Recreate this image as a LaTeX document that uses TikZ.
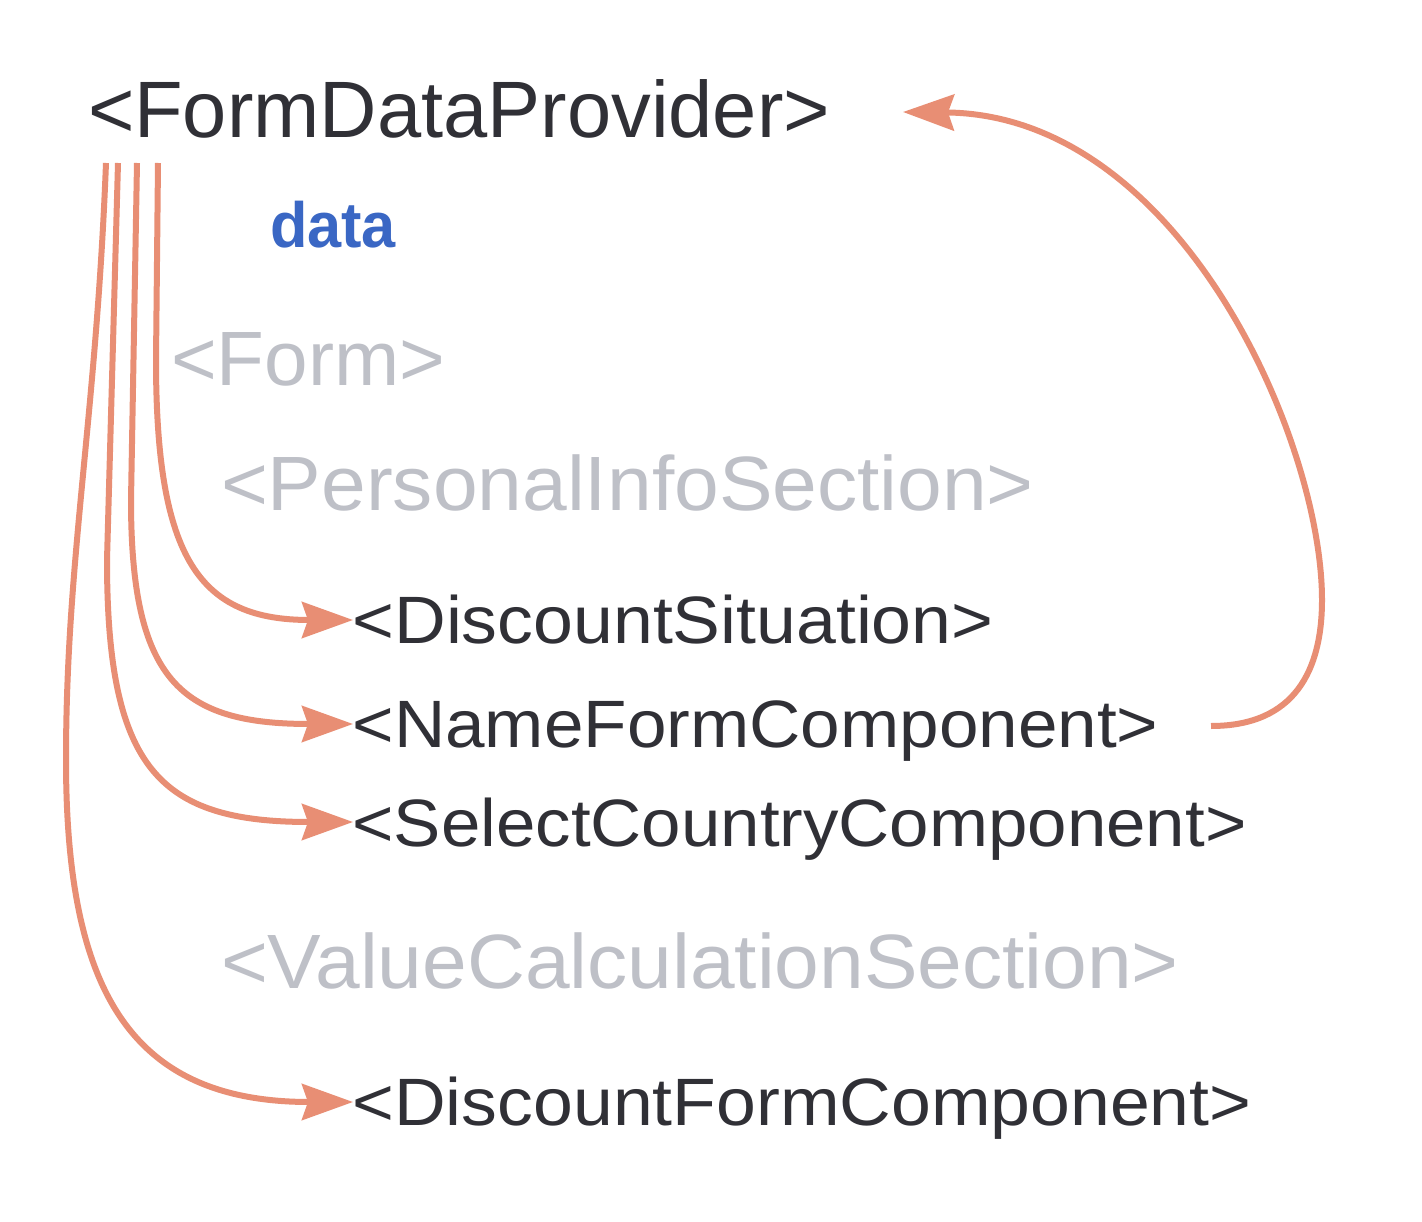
\documentclass[tikz,border=0pt]{standalone}
\usepackage{fontspec}
\setmainfont{Liberation Sans}
\usepackage{graphicx}
\usetikzlibrary{arrows.meta,calc}
\definecolor{ink}{HTML}{303036}
\definecolor{muted}{HTML}{BEC0C7}
\definecolor{link}{HTML}{3A67C4}
\definecolor{flow}{HTML}{E88E74}
\newcommand\fitw[2]{\setbox0=\hbox{#2}\pgfmathsetmacro\fitratio{#1/\the\wd0}\scalebox{\fitratio}[1]{\copy0}}
\begin{document}
\begin{tikzpicture}[x=1pt,y=-1pt,
  lbl/.style={anchor=base west, inner sep=0pt, outer sep=0pt},
  tag/.style={lbl, text=ink},
  ghost/.style={lbl, text=muted},
  prop/.style={lbl, text=link},
  flowline/.style={draw=flow, line width=6pt, -{Stealth[length=51pt,width=36pt,inset=6pt]}}]
\fill[white] (0,0) rectangle (1422,1222);
\useasboundingbox (0,0) rectangle (1422,1222);

\node[tag] (fdp) at (88,138) {\fitw{742}{\fontsize{80}{80}\selectfont <FormDataProvider>}};
\node[prop] (data) at (270,248) {\fitw{126}{\fontsize{64}{64}\selectfont\bfseries data}};
\node[ghost] (form) at (171,386) {\fitw{274}{\fontsize{77}{77}\selectfont <Form>}};
\node[ghost] (pis) at (221,510) {\fitw{813}{\fontsize{77}{77}\selectfont <PersonalInfoSection>}};
\node[tag] (ds) at (352.5,643) {\fitw{641}{\fontsize{67}{67}\selectfont <DiscountSituation>}};
\node[tag] (nfc) at (352.5,747) {\fitw{806}{\fontsize{67}{67}\selectfont <NameFormComponent>}};
\node[tag] (scc) at (352.5,846) {\fitw{894}{\fontsize{67}{67}\selectfont <SelectCountryComponent>}};
\node[ghost] (vcs) at (221,988) {\fitw{958}{\fontsize{77}{77}\selectfont <ValueCalculationSection>}};
\node[tag] (dfc) at (352.5,1125) {\fitw{899}{\fontsize{67}{67}\selectfont <DiscountFormComponent>}};

\coordinate (s1) at ($(fdp.base west)+(18,25)$);
\coordinate (s2) at ($(fdp.base west)+(30,25)$);
\coordinate (s3) at ($(fdp.base west)+(49,25)$);
\coordinate (s4) at ($(fdp.base west)+(70,25)$);
\coordinate (t4) at ($(ds.base west)+(0.5,-23)$);
\coordinate (t3) at ($(nfc.base west)+(0.5,-23)$);
\coordinate (t2) at ($(scc.base west)+(0.5,-24)$);
\coordinate (t1) at ($(dfc.base west)+(0.5,-23)$);
\coordinate (r0) at ($(nfc.base east)+(52.5,-21)$);
\coordinate (r1) at ($(fdp.base east)+(73,-26)$);

\draw[flowline] (s4) -- (156,360) .. controls (156,560) and (200,620) .. (t4);
\draw[flowline] (s3) -- (131,500) .. controls (131,680) and (180,724) .. (t3);
\draw[flowline] (s2) -- (107,560) .. controls (107,770) and (160,822) .. (t2);
\draw[flowline] (s1) .. controls (96,420) and (66,560) .. (66,760) .. controls (66,990) and (130,1102) .. (t1);
\draw[flowline] (r0) .. controls (1295,726) and (1322,670) .. (1322,600) .. controls (1322,440) and (1180,115) .. (r1);
\end{tikzpicture}
\end{document}
